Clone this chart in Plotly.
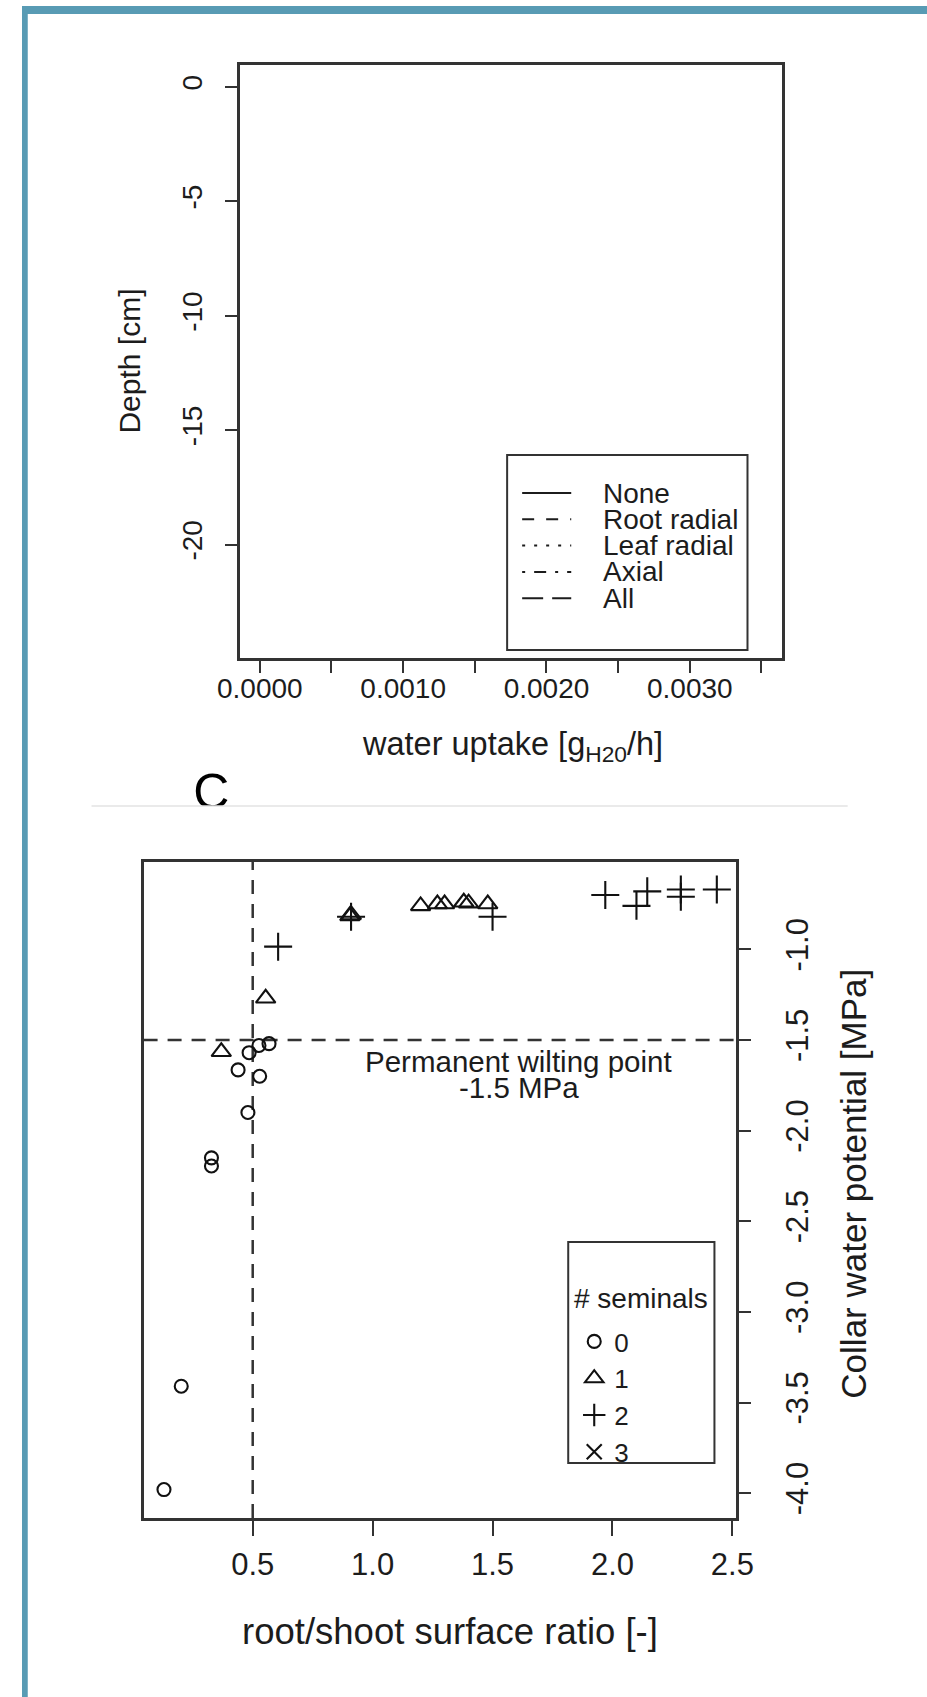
import plotly.graph_objects as go

# Layout positions are given in reference pixels (927 x 1697); px() maps them to paper
# fractions, compensating the horizontal scale/offset observed in the rendered page.
FIG_W, FIG_H = 950, 1697
SX, OX = 0.9575, 22.6
FONT = "Liberation Sans, Arial, Helvetica, sans-serif"
INK = "#1c1c1c"
LINE = "#333333"
TEAL = "#589bb4"

# ---------------- Panel B (top): water uptake profile (legend only) ----------
uptake_scenarios = ["None", "Root radial", "Leaf radial", "Axial", "All"]
uptake_dashes = ["solid", "12px,12px", "3px,9px", "3px,9px,12px,9px", "21px,9px"]
uptake_xticks = [0.0, 0.0010, 0.0020, 0.0030]
uptake_xticklabels = ["0.0000", "0.0010", "0.0020", "0.0030"]
uptake_minor_ticks = [0.0005, 0.0015, 0.0025, 0.0035]
depth_ticks = [0, -5, -10, -15, -20]
depth_ticklabels = ["0", "-5", "-10", "-15", "-20"]

# ---------------- Panel C (bottom): collar water potential vs ratio ----------
seminals = ["0", "1", "2", "3"]
sem0_ratio = [0.130, 0.202, 0.328, 0.328, 0.480, 0.439, 0.529, 0.485, 0.526, 0.568]
sem0_psi = [-3.98, -3.41, -2.15, -2.195, -1.90, -1.665, -1.70, -1.57, -1.53, -1.52]
sem1_ratio = [0.369, 0.554, 0.905, 0.911, 1.20, 1.27, 1.30, 1.38, 1.40, 1.48]
sem1_psi = [-1.565, -1.27, -0.815, -0.81, -0.76, -0.75, -0.75, -0.74, -0.745, -0.75]
sem2_ratio = [0.606, 0.91, 1.50, 1.97, 2.10, 2.145, 2.285, 2.285, 2.435]
sem2_psi = [-0.985, -0.82, -0.82, -0.70, -0.76, -0.68, -0.67, -0.71, -0.67]
sem3_ratio = [None]
sem3_psi = [None]
ratio_ticks = [0.5, 1.0, 1.5, 2.0, 2.5]
ratio_ticklabels = ["0.5", "1.0", "1.5", "2.0", "2.5"]
psi_ticks = [-1.0, -1.5, -2.0, -2.5, -3.0, -3.5, -4.0]
psi_ticklabels = ["-1.0", "-1.5", "-2.0", "-2.5", "-3.0", "-3.5", "-4.0"]
wilting_point = -1.5
ratio_reference = 0.5


def px(x):
    return ((x - OX) / SX) / FIG_W


def py(y):
    return 1 - y / FIG_H


fig = go.Figure()

for name, dash in zip(uptake_scenarios, uptake_dashes):
    fig.add_trace(go.Scatter(x=[], y=[], mode="lines", name=name,
                             line=dict(color=INK, dash=dash, width=1.5),
                             xaxis="x", yaxis="y", showlegend=False))

sym = ["circle-open", "triangle-up-open", "cross-thin-open", "x-thin-open"]
sizes = [13, 17, 20, 15]
for lab, xs, ys, s, sz in zip(seminals,
                              [sem0_ratio, sem1_ratio, sem2_ratio, sem3_ratio],
                              [sem0_psi, sem1_psi, sem2_psi, sem3_psi], sym, sizes):
    fig.add_trace(go.Scatter(x=xs, y=ys, mode="markers", name=lab,
                             marker=dict(symbol=s, size=sz, color="#111",
                                         line=dict(width=2.1, color="#111")),
                             xaxis="x2", yaxis="y2", showlegend=True, cliponaxis=False))

# panel letter "C", clipped at the separator line
fig.add_trace(go.Scatter(x=[0.5], y=[0.115], mode="text", text=["C"],
                         textfont=dict(family=FONT, size=50, color="#000"),
                         textposition="middle center", cliponaxis=True,
                         xaxis="x3", yaxis="y3", showlegend=False, hoverinfo="skip"))

axis_common = dict(showgrid=False, zeroline=False, showline=True, mirror=True,
                   linecolor=LINE, linewidth=2.5, ticks="outside", ticklen=12,
                   tickwidth=2, tickcolor=LINE, tickfont=dict(family=FONT, size=28, color=INK))

top_x0, top_x1, top_y0, top_y1 = 240, 781, 65, 658
bot_x0, bot_x1, bot_y0, bot_y1 = 144, 736, 862, 1518
c_x = 211.5

fig.update_layout(
    width=FIG_W, height=FIG_H, margin=dict(l=0, r=0, t=0, b=0), autosize=False,
    paper_bgcolor="white", plot_bgcolor="rgba(0,0,0,0)",
    font=dict(family=FONT, color=INK),
    xaxis=dict(axis_common, domain=[px(top_x0), px(top_x1)], anchor="y",
               range=[-0.00014, 0.00364], tickvals=uptake_xticks,
               ticktext=uptake_xticklabels, ticklabelstandoff=-8,
               minor=dict(tickvals=uptake_minor_ticks, ticks="outside", ticklen=12,
                          tickwidth=2, tickcolor=LINE, showgrid=False)),
    yaxis=dict(axis_common, domain=[py(top_y1), py(top_y0)], anchor="x",
               range=[-24.96, 0.96], tickvals=depth_ticks, ticktext=depth_ticklabels,
               tickangle=-90, ticklabelstandoff=12),
    xaxis2=dict(axis_common, domain=[px(bot_x0), px(bot_x1)], anchor="y2",
                range=[0.045, 2.517], tickvals=ratio_ticks, ticktext=ratio_ticklabels,
                ticklen=15, tickfont=dict(family=FONT, size=31, color=INK),
                ticklabelstandoff=2),
    yaxis2=dict(axis_common, domain=[py(bot_y1), py(bot_y0)], anchor="x2", side="right",
                range=[-4.137, -0.518], tickvals=psi_ticks, ticktext=psi_ticklabels,
                tickangle=-90, tickfont=dict(family=FONT, size=31, color=INK),
                ticklabelstandoff=20),
    xaxis3=dict(domain=[px(c_x - 60), px(c_x + 60)], range=[0, 1], visible=False),
    yaxis3=dict(domain=[py(806), py(720)], range=[0, 1], visible=False),
    legend=dict(x=px(574), y=py(1318), xanchor="left", yanchor="top",
                bgcolor="rgba(0,0,0,0)", borderwidth=0,
                font=dict(family=FONT, size=26, color=INK),
                itemsizing="trace", tracegroupgap=0),
    showlegend=True,
)

shapes = []
# page frame (left bar as far left as the page allows, top bar across)
shapes.append(dict(type="rect", xref="paper", yref="paper", x0=0, x1=6 / FIG_W,
                   y0=0, y1=py(6), fillcolor=TEAL, line=dict(width=0), layer="above"))
shapes.append(dict(type="rect", xref="paper", yref="paper", x0=0, x1=1,
                   y0=py(14), y1=py(6), fillcolor=TEAL, line=dict(width=0), layer="above"))
# separator between panels
shapes.append(dict(type="line", xref="paper", yref="paper", x0=px(92), x1=px(847),
                   y0=py(806), y1=py(806), line=dict(color="#e3e3e3", width=1.5)))
# reference lines (panel C)
shapes.append(dict(type="line", xref="x2", yref="y2 domain", x0=ratio_reference,
                   x1=ratio_reference, y0=0, y1=1, layer="below",
                   line=dict(color=LINE, width=2.5, dash="14px,10px")))
shapes.append(dict(type="line", xref="x2 domain", yref="y2", x0=0, x1=1,
                   y0=wilting_point, y1=wilting_point, layer="below",
                   line=dict(color=LINE, width=2.5, dash="14px,10px")))
# legend frame (panel C)
shapes.append(dict(type="rect", xref="paper", yref="paper", x0=px(568), x1=px(714),
                   y0=py(1463), y1=py(1242), line=dict(color=LINE, width=2)))
# legend frame (panel B)
leg_l, leg_r, leg_t, leg_b = 507, 747, 455, 650
shapes.append(dict(type="rect", xref="paper", yref="paper", x0=px(leg_l), x1=px(leg_r),
                   y0=py(leg_b), y1=py(leg_t), line=dict(color=LINE, width=2)))

annotations = []
row0, row_step = 493, 26.3
for i, (name, dash) in enumerate(zip(uptake_scenarios, uptake_dashes)):
    yy = row0 + i * row_step
    shapes.append(dict(type="line", xref="paper", yref="paper", x0=px(522), x1=px(571),
                       y0=py(yy), y1=py(yy), line=dict(color=INK, width=2, dash=dash)))
    annotations.append(dict(text=name, xref="paper", yref="paper", x=px(601), y=py(yy),
                            xanchor="left", yanchor="middle", showarrow=False,
                            font=dict(family=FONT, size=28, color=INK)))

annotations += [
    dict(text="# seminals", xref="paper", yref="paper", x=px(641), y=py(1298),
         showarrow=False, xanchor="center", yanchor="middle",
         font=dict(family=FONT, size=28, color=INK)),
    dict(text="Depth [cm]", xref="paper", yref="paper", x=px(130), y=py(361),
         textangle=-90, showarrow=False, xanchor="center", yanchor="middle",
         font=dict(family=FONT, size=30, color=INK)),
    dict(text="water uptake [g<sub>H20</sub>/h]", xref="paper", yref="paper",
         x=px(512), y=py(746), showarrow=False, xanchor="center", yanchor="middle",
         font=dict(family=FONT, size=32.5, color=INK)),
    dict(text="root/shoot surface ratio [-]", xref="paper", yref="paper",
         x=px(450), y=py(1631), showarrow=False, xanchor="center", yanchor="middle",
         font=dict(family=FONT, size=36.5, color=INK)),
    dict(text="Collar water potential [MPa]", xref="paper", yref="paper",
         x=px(852), y=py(1184), textangle=-90, showarrow=False,
         xanchor="center", yanchor="middle",
         font=dict(family=FONT, size=35, color=INK)),
    dict(text="Permanent wilting point", xref="x2", yref="y2", x=1.61, y=-1.62,
         showarrow=False, xanchor="center", yanchor="middle",
         font=dict(family=FONT, size=29.5, color=INK)),
    dict(text="-1.5 MPa", xref="x2", yref="y2", x=1.61, y=-1.76,
         showarrow=False, xanchor="center", yanchor="middle",
         font=dict(family=FONT, size=29.5, color=INK)),
]

fig.update_layout(shapes=shapes, annotations=annotations)
fig.write_html("out.html")
